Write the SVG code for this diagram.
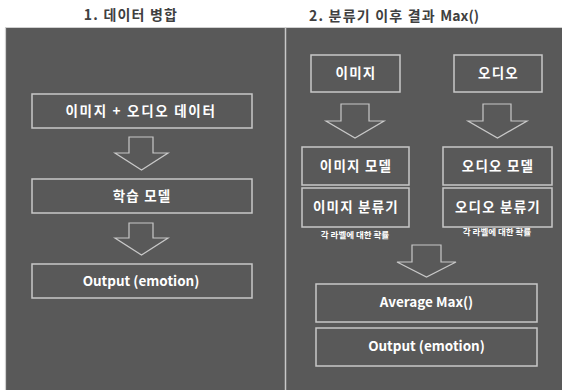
<svg xmlns="http://www.w3.org/2000/svg" width="562" height="390" viewBox="0 0 562 390">
<style>
.bx{fill:none;stroke:#c8c8c8;stroke-width:1.5}
.ar{fill:none;stroke:#c8c8c8;stroke-width:1.2;stroke-linejoin:miter}
.t{font-family:"Noto Sans CJK KR","Liberation Sans",sans-serif;font-weight:bold;fill:#ffffff;font-size:13.5px;text-anchor:middle}
.k{letter-spacing:1.2px}
.s{font-family:"Noto Sans CJK KR","Liberation Sans",sans-serif;font-weight:bold;fill:#ffffff;font-size:8.5px;text-anchor:middle}
.h{font-family:"Noto Sans CJK KR","Liberation Sans",sans-serif;font-weight:bold;fill:#404040;font-size:14px;text-anchor:middle}
</style>
<rect width="562" height="390" fill="#ffffff"/>
<rect x="5" y="27.5" width="557" height="362.5" fill="#595959"/>
<line x1="5.5" y1="27.5" x2="5.5" y2="390" stroke="#d0d0d0" stroke-width="1.2"/>
<line x1="5" y1="27.5" x2="562" y2="27.5" stroke="#d0d0d0" stroke-width="1.2"/>
<line x1="285.5" y1="27.5" x2="285.5" y2="390" stroke="#c8c8c8" stroke-width="1.5"/>
<text class="h" x="131" y="20" style="letter-spacing:1.2px">1. 데이터 병합</text>
<text class="h" x="394" y="21"><tspan style="letter-spacing:1.2px">2. 분류기 이후 결과 </tspan><tspan>Max()</tspan></text>
<g id="connectors">
<polygon class="ar" points="129,137 153,137 153,153 168,153 141.5,170 115,153 129,153"/>
<polygon class="ar" points="129,223 153,223 153,238 168,238 141.5,255 115,238 129,238"/>
<polygon class="ar" points="341,104 369,104 369,121 384,121 355,138 326,121 341,121"/>
<polygon class="ar" points="483,104 511,104 511,121 527,121 497.5,138 468,121 483,121"/>
<polygon class="ar" points="412,245 441,245 441,262 456,262 426.5,277 397,262 412,262"/>
</g>
<g id="n-data"><rect class="bx" x="32" y="94" width="220" height="34"/><text class="t k" x="141" y="116" style="letter-spacing:1.7px">이미지 + 오디오 데이터</text></g>
<g id="n-train"><rect class="bx" x="32" y="179" width="220" height="34"/><text class="t k" x="142" y="201">학습 모델</text></g>
<g id="n-out1"><rect class="bx" x="32" y="264" width="220" height="34"/><text class="t" x="141" y="286">Output (emotion)</text></g>
<g id="n-img"><rect class="bx" x="311" y="55" width="89" height="37"/><text class="t k" x="356" y="78">이미지</text></g>
<g id="n-aud"><rect class="bx" x="454" y="55" width="88" height="37"/><text class="t k" x="498.5" y="78">오디오</text></g>
<g id="n-imgmodel"><rect class="bx" x="302" y="147" width="107" height="38"/><text class="t k" x="356" y="171">이미지 모델</text></g>
<g id="n-imgcls"><rect class="bx" x="302" y="188" width="107" height="39"/><text class="t k" x="356" y="212">이미지 분류기</text></g>
<g id="n-audmodel"><rect class="bx" x="443" y="147" width="109" height="38"/><text class="t k" x="498" y="171">오디오 모델</text></g>
<g id="n-audcls"><rect class="bx" x="443" y="188" width="109" height="39"/><text class="t k" x="498" y="212">오디오 분류기</text></g>
<g id="l-prob1"><text class="s" x="355" y="238">각 라벨에 대한 확률</text></g>
<g id="l-prob2"><text class="s" x="497" y="235">각 라벨에 대한 확률</text></g>
<g id="n-avg"><rect class="bx" x="316" y="284" width="221" height="38"/><text class="t" x="426.5" y="307">Average Max()</text></g>
<g id="n-out2"><rect class="bx" x="316" y="328" width="221" height="38"/><text class="t" x="426.5" y="351">Output (emotion)</text></g>
</svg>
